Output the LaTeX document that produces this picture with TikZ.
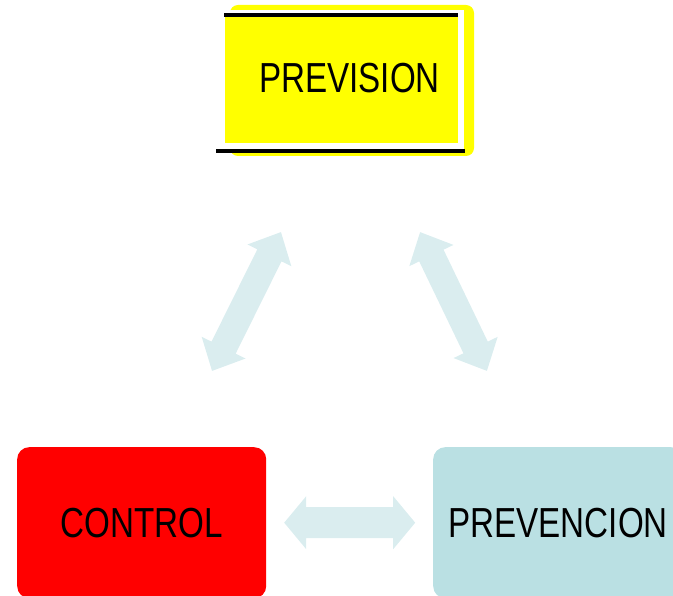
\documentclass[tikz,border=0pt]{standalone}
\usepackage{fontspec}
\setmainfont{Liberation Sans}
\newfontfamily\boxfont[FakeStretch=0.79]{Liberation Sans}
\usetikzlibrary{calc}
\definecolor{arrowblue}{RGB}{218,237,239}
\definecolor{prevblue}{RGB}{186,224,227}
\definecolor{prevyellow}{RGB}{255,255,0}
\definecolor{ctrlred}{RGB}{255,0,0}
\def\boxtext{\boxfont\fontsize{42}{50}\selectfont}
% flecha doble: (centro)(angulo:medio largo:punta:medio ancho:medio ancho punta)
\def\blockarrow(#1)(#2:#3:#4:#5:#6){\fill[arrowblue, shift={(#1)}, rotate=#2] (-#3, 0) -- (-#3+#4, #6) -- (-#3+#4, #5) -- (#3-#4, #5) -- (#3-#4, #6) -- (#3, 0) -- (#3-#4, -#6) -- (#3-#4, -#5) -- (-#3+#4, -#5) -- (-#3+#4, -#6) -- cycle;}

\begin{document}
\begin{tikzpicture}[x=1pt, y=-1pt,
		stepbox/.style={inner sep=0pt, anchor=north west, font=\boxtext, rounded corners=12}]
		%%%%% START %%%%%
		
		\useasboundingbox (0, 0) rectangle (673, 596);
		
		% previsión
		\draw[fill=prevyellow, draw=none, rounded corners=8] (230, 5) rectangle (474, 156);
		\fill[white] (216, 10) rectangle (464, 152);
		\node[fill=prevyellow, inner sep=0pt, minimum width=233, minimum height=126, anchor=north west] (prevision) at (225, 17) {};
		\draw[line width=4pt] (224, 15) -- (458, 15);
		\draw[line width=4pt] (216, 151) -- (465, 151);
		\node[font=\boxtext] (previsiontext) at (349.5, 78) {PREVISION};
		
		% control y prevención
		\node[stepbox, fill=ctrlred, minimum width=249, minimum height=151] (control) at (17, 447) {CONTROL};
		\node[stepbox, fill=prevblue, minimum width=250, minimum height=151] (prevencion) at (433, 447) {PREVENCION};
		
		% flechas
		\coordinate (arrowbottom) at ($(control.east)!0.5!(prevencion.west)$);
		\coordinate (arrowleft) at (246.5, 301.5);
		\coordinate (arrowright) at (453.5, 301.5);
		\blockarrow(arrowbottom)(0:65.5:22:15.5:26.5)
		\blockarrow(arrowleft)(63.6:77.5:26:13.5:24.5)
		\blockarrow(arrowright)(-64.3:77:26:13.5:24.5)
		
		%%%%% END %%%%%
\end{tikzpicture}
\end{document}
